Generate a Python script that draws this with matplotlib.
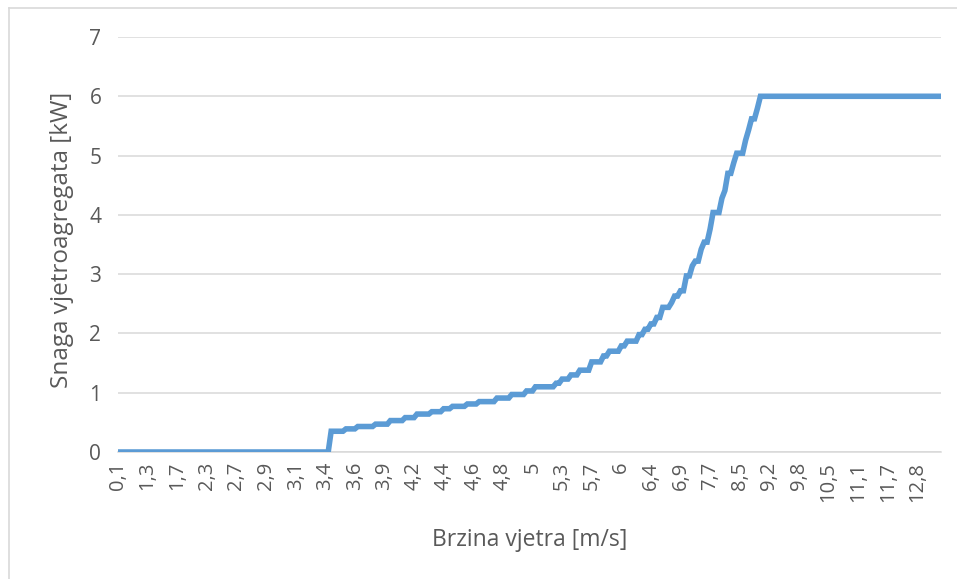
import numpy as np
import matplotlib
matplotlib.use("Agg")
import matplotlib.pyplot as plt

# power curve: each level holds from its start index
# (category position on the x axis) until the next start
step_starts  = [0, 72, 77, 81, 87, 92, 97, 101, 106, 110, 113, 118, 122, 128,
                133, 138, 141, 148, 150, 153, 156, 160, 164, 166, 170, 172,
                176, 178, 180, 182, 184, 187, 188, 190, 192, 194, 195, 197,
                198, 200, 201, 204, 205, 206, 208, 209, 212, 213, 214, 216, 217]
power_levels = [0.00, 0.35, 0.39, 0.43, 0.47, 0.53, 0.58, 0.64, 0.68, 0.73,
                0.77, 0.81, 0.85, 0.91, 0.97, 1.03, 1.10, 1.16, 1.23, 1.30,
                1.38, 1.52, 1.62, 1.70, 1.79, 1.87, 1.98, 2.07, 2.16, 2.27,
                2.44, 2.52, 2.63, 2.72, 2.97, 3.14, 3.22, 3.42, 3.54, 3.76,
                4.04, 4.28, 4.41, 4.70, 4.88, 5.04, 5.26, 5.43, 5.62, 5.80, 6.00]
n_points = 279

# category labels shown every 10th point
tick_every  = 10
tick_labels = ["0,1", "1,3", "1,7", "2,3", "2,7", "2,9", "3,1", "3,4", "3,6",
               "3,9", "4,2", "4,4", "4,6", "4,8", "5", "5,3", "5,7", "6",
               "6,4", "6,9", "7,7", "8,5", "9,2", "9,8", "10,5", "11,1",
               "11,7", "12,8"]

LINE_COLOR = "#5b9bd5"
GRID_COLOR = "#d9d9d9"
TEXT_COLOR = "#595959"
FONT = "Open Sans"

counts = np.diff(step_starts + [n_points])
snaga = np.repeat(power_levels, counts)
x = np.arange(n_points)

W, H = 957, 579
fig = plt.figure(figsize=(W / 100, H / 100), dpi=100)
ax = fig.add_axes([118 / W, 1 - 452 / H, (941 - 118) / W, (452 - 37) / H])

ax.plot(x, snaga, color=LINE_COLOR, linewidth=4.0, solid_capstyle="butt",
        solid_joinstyle="miter", zorder=3)

ax.set_xlim(0, n_points - 1)
ax.set_ylim(0, 7)
ax.set_yticks(range(0, 8))
ax.set_xticks(np.arange(len(tick_labels)) * tick_every)
ax.set_xticklabels(tick_labels, rotation=90, fontsize=14.5, color=TEXT_COLOR,
                   family=FONT)
for lbl in ax.get_yticklabels():
    lbl.set_fontsize(15)
    lbl.set_color(TEXT_COLOR)
    lbl.set_family(FONT)

ax.grid(axis="y", color=GRID_COLOR, linewidth=1.1)
ax.set_axisbelow(True)
ax.tick_params(axis="both", length=0)
ax.tick_params(axis="x", pad=7)
ax.tick_params(axis="y", pad=12)
for side in ["top", "right", "left"]:
    ax.spines[side].set_visible(False)
ax.spines["bottom"].set_color(GRID_COLOR)
ax.spines["bottom"].set_linewidth(1.1)

fig.text(62 / W, 1 - 240 / H, "Snaga vjetroagregata [kW]", rotation=90,
         ha="center", va="center", fontsize=17.5, color=TEXT_COLOR, family=FONT)
fig.text(530 / W, 1 - 540 / H, "Brzina vjetra [m/s]", ha="center",
         va="center", fontsize=16.5, color=TEXT_COLOR, family=FONT)

# chart area border (only top and left edges visible in the crop)
fig.add_artist(plt.Line2D([9 / W, 9 / W], [0, 1 - 8 / H],
                          transform=fig.transFigure, color=GRID_COLOR, lw=1.2))
fig.add_artist(plt.Line2D([9 / W, 1], [1 - 8 / H, 1 - 8 / H],
                          transform=fig.transFigure, color=GRID_COLOR, lw=1.2))

fig.savefig("out.png", dpi=100)
